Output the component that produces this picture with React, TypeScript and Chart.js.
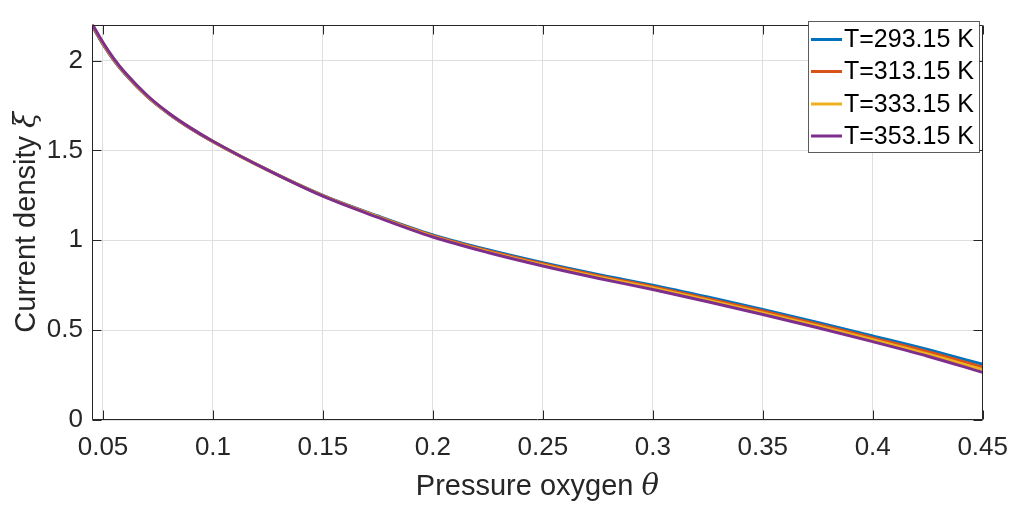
import React, { useEffect, useRef } from "react";
import { Chart, registerables } from "chart.js";

Chart.register(...registerables);

// ---- data ----
const pressure = [0.045, 0.05, 0.055, 0.06, 0.07, 0.08, 0.09, 0.1, 0.125, 0.15, 0.175, 0.2, 0.225, 0.25, 0.275, 0.3, 0.325, 0.35, 0.375, 0.4, 0.425, 0.45];
const t293 = [2.195, 2.09, 2.0, 1.925, 1.8, 1.702, 1.62, 1.548, 1.39, 1.25, 1.135, 1.03, 0.947, 0.875, 0.81, 0.75, 0.684, 0.615, 0.543, 0.468, 0.392, 0.31];
const t313 = [2.198, 2.093, 2.003, 1.928, 1.802, 1.704, 1.621, 1.549, 1.39, 1.248, 1.132, 1.026, 0.942, 0.869, 0.803, 0.742, 0.675, 0.606, 0.533, 0.457, 0.38, 0.295];
const t333 = [2.202, 2.097, 2.006, 1.93, 1.805, 1.705, 1.623, 1.55, 1.39, 1.247, 1.13, 1.022, 0.937, 0.863, 0.796, 0.734, 0.667, 0.596, 0.523, 0.447, 0.367, 0.28];
const t353 = [2.205, 2.1, 2.009, 1.933, 1.807, 1.707, 1.624, 1.551, 1.39, 1.245, 1.127, 1.018, 0.932, 0.857, 0.789, 0.726, 0.658, 0.587, 0.513, 0.436, 0.355, 0.265];

const seriesLabels = ["T=293.15 K", "T=313.15 K", "T=333.15 K", "T=353.15 K"];
const seriesValues = [t293, t313, t333, t353];
const seriesColors = ["#0072BD", "#D95319", "#EDB120", "#7E2F8E"];

const xTicks = [0.05, 0.1, 0.15, 0.2, 0.25, 0.3, 0.35, 0.4, 0.45];
const xTickLabels = ["0.05", "0.1", "0.15", "0.2", "0.25", "0.3", "0.35", "0.4", "0.45"];
const yTicks = [0, 0.5, 1, 1.5, 2];
const yTickLabels = ["0", "0.5", "1", "1.5", "2"];

const xTitle = "Pressure oxygen ";
const xTitleSymbol = "θ";
const yTitle = "Current density ";
const yTitleSymbol = "ξ";

const SANS = '"Liberation Sans", Arial, Helvetica, sans-serif';
const SERIF = '"DejaVu Serif", "Liberation Serif", serif';
const INK = "#262626";

const decorPlugin = {
  id: "matlabDecor",
  afterDraw(chart: any) {
    const { ctx, chartArea, scales } = chart;
    const { left, right, top, bottom } = chartArea;
    const L = Math.round(left) + 0.5;
    const R = Math.round(right) - 0.5;
    const T = Math.round(top) + 0.5;
    const B = Math.round(bottom) - 0.5;
    ctx.save();
    // box
    ctx.strokeStyle = INK;
    ctx.lineWidth = 1;
    ctx.beginPath();
    ctx.rect(L, T, R - L, B - T);
    ctx.stroke();
    // inward ticks
    const tl = 9;
    ctx.beginPath();
    xTicks.forEach((v) => {
      const px = Math.round(scales.x.getPixelForValue(v)) + 0.5;
      ctx.moveTo(px, B);
      ctx.lineTo(px, B - tl);
      ctx.moveTo(px, T);
      ctx.lineTo(px, T + tl);
    });
    yTicks.forEach((v) => {
      const py = Math.round(scales.y.getPixelForValue(v)) + 0.5;
      ctx.moveTo(L, py);
      ctx.lineTo(L + tl, py);
      ctx.moveTo(R, py);
      ctx.lineTo(R - tl, py);
    });
    ctx.stroke();

    // axis titles
    ctx.fillStyle = INK;
    ctx.textBaseline = "middle";
    const titleSize = 29;
    const sansFont = `${titleSize}px ${SANS}`;
    const serifFont = `italic ${titleSize}px ${SERIF}`;
    // x title
    ctx.font = sansFont;
    const w1 = ctx.measureText(xTitle).width;
    ctx.font = serifFont;
    const w2 = ctx.measureText(xTitleSymbol).width;
    const cx = (left + right) / 2;
    const xStart = cx - (w1 + w2) / 2;
    const ty = 487;
    ctx.textAlign = "left";
    ctx.font = sansFont;
    ctx.fillText(xTitle, xStart, ty);
    ctx.font = serifFont;
    ctx.fillText(xTitleSymbol, xStart + w1, ty);
    // y title
    ctx.save();
    const cy = (top + bottom) / 2;
    ctx.translate(27, cy);
    ctx.rotate(-Math.PI / 2);
    ctx.font = sansFont;
    const v1 = ctx.measureText(yTitle).width;
    ctx.font = serifFont;
    const v2 = ctx.measureText(yTitleSymbol).width;
    const s = -(v1 + v2) / 2;
    ctx.font = sansFont;
    ctx.fillText(yTitle, s, 0);
    ctx.font = serifFont;
    ctx.fillText(yTitleSymbol, s + v1, 0);
    ctx.restore();

    // legend
    const lx = 808.5;
    const ly = 21.5;
    const lw = 171;
    const lh = 131;
    ctx.fillStyle = "#ffffff";
    ctx.fillRect(lx, ly, lw, lh);
    ctx.strokeStyle = "rgba(38,38,38,0.75)";
    ctx.lineWidth = 1;
    ctx.strokeRect(lx, ly, lw, lh);
    const rowY = [39.5, 71.5, 104, 136];
    ctx.font = `25px ${SANS}`;
    ctx.textAlign = "left";
    ctx.textBaseline = "middle";
    seriesLabels.forEach((lab, i) => {
      ctx.strokeStyle = seriesColors[i];
      ctx.lineWidth = 3;
      ctx.beginPath();
      ctx.moveTo(811, rowY[i]);
      ctx.lineTo(842, rowY[i]);
      ctx.stroke();
      ctx.fillStyle = "#000000";
      ctx.fillText(lab, 844, rowY[i] + 1);
    });
    ctx.restore();
  },
};

export default function App() {
  const canvasRef = useRef<HTMLCanvasElement | null>(null);

  useEffect(() => {
    document.body.style.margin = "0";
    const canvas = canvasRef.current;
    if (!canvas) return;
    const chart = new Chart(canvas, {
      type: "line",
      data: {
        datasets: seriesLabels.map((label, i) => ({
          label,
          data: pressure.map((x, j) => ({ x, y: seriesValues[i][j] })),
          borderColor: seriesColors[i],
          backgroundColor: seriesColors[i],
          borderWidth: 3,
          pointRadius: 0,
          fill: false,
          order: seriesLabels.length - i,
          cubicInterpolationMode: "monotone" as const,
        })),
      },
      options: {
        responsive: false,
        animation: false,
        devicePixelRatio: 1,
        layout: { padding: { top: 11, right: 32, left: 0, bottom: 0 } },
        plugins: {
          legend: { display: false },
          tooltip: { enabled: false },
          title: { display: false },
        },
        scales: {
          x: {
            type: "linear",
            min: 0.045,
            max: 0.45,
            afterBuildTicks: (scale: any) => {
              scale.ticks = xTicks.map((v) => ({ value: v }));
            },
            afterFit: (scale: any) => {
              scale.height = 87;
            },
            border: { display: false },
            grid: { color: "#dfdfdf", lineWidth: 1, drawTicks: false },
            ticks: {
              autoSkip: false,
              maxRotation: 0,
              padding: 12,
              color: INK,
              font: { family: SANS, size: 26 },
              callback: (v: any) => {
                const k = xTicks.findIndex((t) => Math.abs(t - v) < 1e-9);
                return k >= 0 ? xTickLabels[k] : "";
              },
            },
          },
          y: {
            type: "linear",
            min: 0,
            max: 2.2,
            afterBuildTicks: (scale: any) => {
              scale.ticks = yTicks.map((v) => ({ value: v }));
            },
            afterFit: (scale: any) => {
              scale.width = 92;
            },
            border: { display: false },
            grid: { color: "#dfdfdf", lineWidth: 1, drawTicks: false },
            ticks: {
              autoSkip: false,
              padding: 9,
              color: INK,
              font: { family: SANS, size: 26 },
              callback: (v: any) => {
                const k = yTicks.findIndex((t) => Math.abs(t - v) < 1e-9);
                return k >= 0 ? yTickLabels[k] : "";
              },
            },
          },
        },
      },
      plugins: [decorPlugin],
    });
    return () => chart.destroy();
  }, []);

  return (
    <div style={{ position: "fixed", left: 0, top: 0, width: 1020, height: 507, background: "#fff" }}>
      <canvas ref={canvasRef} width={1020} height={507} style={{ width: 1020, height: 507, display: "block" }} />
    </div>
  );
}
